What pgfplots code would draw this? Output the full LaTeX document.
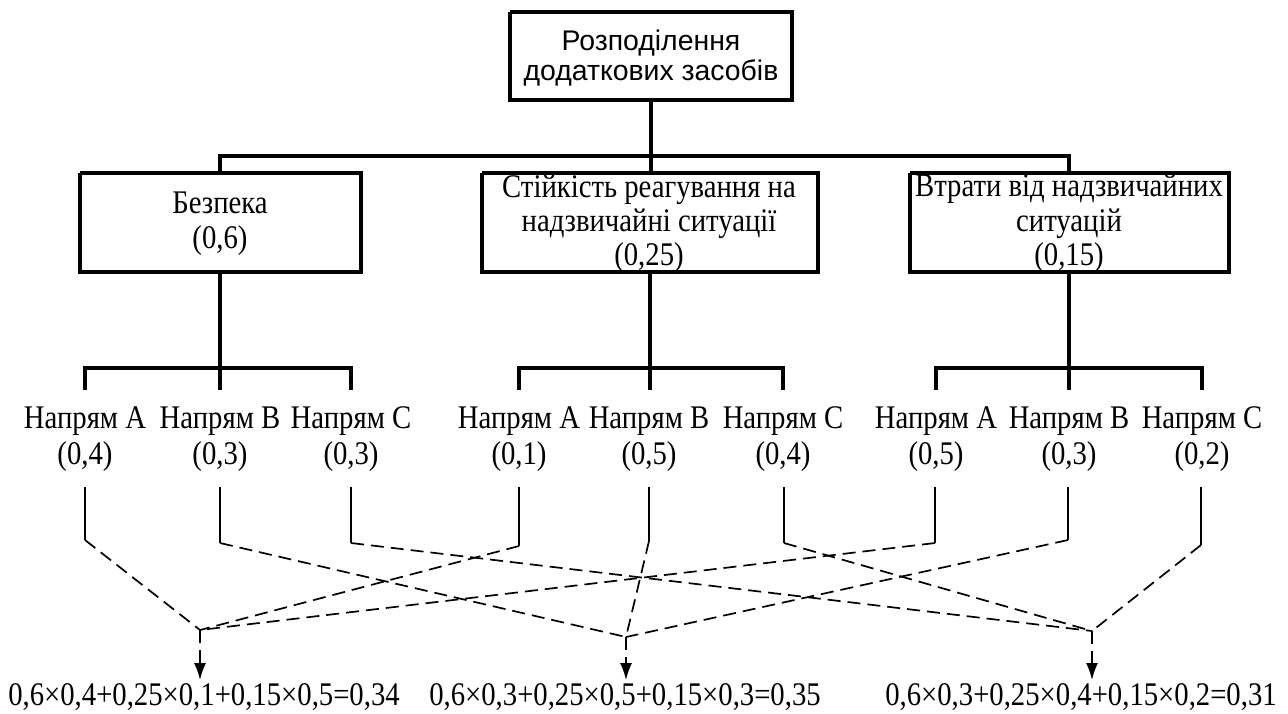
\documentclass[border=0pt]{standalone}
\usepackage{pgfplots}
\pgfplotsset{compat=1.18}
\usepackage{fontspec}
\setmainfont{Liberation Serif}[FakeStretch=0.87]
\newfontfamily\arialf{Liberation Sans}
\usetikzlibrary{arrows.meta}
\tikzset{
  tk/.style={black, line width=1.6pt},
  tn/.style={black, line width=0.75pt},
  dsh/.style={black, line width=0.85pt, dash pattern=on 6.5pt off 3.5pt},
  lab/.style={anchor=base, inner sep=0pt, font=\fontsize{16.5}{18}\selectfont},
  alab/.style={anchor=base, inner sep=0pt, font=\arialf\fontsize{14.2}{16}\selectfont},
}
\begin{document}
\begin{tikzpicture}
\begin{axis}[scale only axis, width=644pt, height=356.5pt,
  xmin=0, xmax=1288, ymin=0, ymax=713, y dir=reverse,
  axis lines=none, clip=false, every axis plot/.append style={no marks},
]
\path (axis cs:0,0) rectangle (axis cs:1288,713);
% top box
\addplot[tk] coordinates {(510,12) (792,12) (792,100) (510,100) (510,12)};
\node[alab] at (axis cs:651,50) {Розподілення};
\node[alab] at (axis cs:651,80) {додаткових засобів};
\addplot[tk] coordinates {(651,100) (651,173)};
\addplot[tk] coordinates {(220,173) (220,156) (1069,156) (1069,173)};
% level-1 boxes
\addplot[tk] coordinates {(80,173) (361,173) (361,272) (80,272) (80,173)};
\addplot[tk] coordinates {(482,173) (818,173) (818,272) (482,272) (482,173)};
\addplot[tk] coordinates {(910,173) (1229,173) (1229,272) (910,272) (910,173)};
\node[lab] at (axis cs:220,213) {Безпека};
\node[lab] at (axis cs:220,248) {(0,6)};
\node[lab] at (axis cs:649,197) {Стійкість реагування на};
\node[lab] at (axis cs:649,231) {надзвичайні ситуації};
\node[lab] at (axis cs:649,265) {(0,25)};
\node[lab] at (axis cs:1069,196) {Втрати від надзвичайних};
\node[lab] at (axis cs:1069,231) {ситуацій};
\node[lab] at (axis cs:1069,265) {(0,15)};
% branches
\addplot[tk] coordinates {(220,272) (220,368)};
\addplot[tk] coordinates {(650,272) (650,368)};
\addplot[tk] coordinates {(1069,272) (1069,368)};
\addplot[tk] coordinates {(85,390) (85,368) (351,368) (351,390)};
\addplot[tk] coordinates {(220,368) (220,390)};
\addplot[tk] coordinates {(519,390) (519,368) (783,368) (783,390)};
\addplot[tk] coordinates {(650,368) (650,390)};
\addplot[tk] coordinates {(936,390) (936,368) (1202,368) (1202,390)};
\addplot[tk] coordinates {(1069,368) (1069,390)};
% labels
\node[lab] at (axis cs:85,428) {Напрям А};
\node[lab] at (axis cs:85,464) {(0,4)};
\node[lab] at (axis cs:220,428) {Напрям В};
\node[lab] at (axis cs:220,464) {(0,3)};
\node[lab] at (axis cs:351,428) {Напрям С};
\node[lab] at (axis cs:351,464) {(0,3)};
\node[lab] at (axis cs:519,428) {Напрям А};
\node[lab] at (axis cs:519,464) {(0,1)};
\node[lab] at (axis cs:649,428) {Напрям В};
\node[lab] at (axis cs:649,464) {(0,5)};
\node[lab] at (axis cs:783,428) {Напрям С};
\node[lab] at (axis cs:783,464) {(0,4)};
\node[lab] at (axis cs:936,428) {Напрям А};
\node[lab] at (axis cs:936,464) {(0,5)};
\node[lab] at (axis cs:1069,428) {Напрям В};
\node[lab] at (axis cs:1069,464) {(0,3)};
\node[lab] at (axis cs:1202,428) {Напрям С};
\node[lab] at (axis cs:1202,464) {(0,2)};
% lower solid stubs
\addplot[tn] coordinates {(85,487) (85,540)};
\addplot[tn] coordinates {(220,487) (220,543)};
\addplot[tn] coordinates {(351,487) (351,543)};
\addplot[tn] coordinates {(519,487) (519,546)};
\addplot[tn] coordinates {(649,487) (649,541)};
\addplot[tn] coordinates {(784,487) (784,543)};
\addplot[tn] coordinates {(935,487) (935,543)};
\addplot[tn] coordinates {(1068,487) (1068,540)};
\addplot[tn] coordinates {(1201,487) (1201,545)};
% dashed links to result 1 (200,630)
\addplot[dsh] coordinates {(85,540) (200,630)};
\addplot[dsh] coordinates {(519,546) (200,630)};
\addplot[dsh] coordinates {(935,543) (200,630)};
% result 2 (626,637)
\addplot[dsh] coordinates {(220,543) (626,637)};
\addplot[dsh] coordinates {(649,541) (626,637)};
\addplot[dsh] coordinates {(1068,540) (626,637)};
% result 3 (1092,631)
\addplot[dsh] coordinates {(351,543) (1092,631)};
\addplot[dsh] coordinates {(784,543) (1092,631)};
\addplot[dsh] coordinates {(1201,545) (1092,631)};
% arrows
\addplot[dsh, -{Latex[length=8.5pt, width=6pt]}] coordinates {(200,630) (200,680)};
\addplot[dsh, -{Latex[length=8.5pt, width=6pt]}] coordinates {(626,637) (626,680)};
\addplot[dsh, -{Latex[length=8.5pt, width=6pt]}] coordinates {(1092,631) (1092,680)};
% formulas
\node[lab] at (axis cs:204,705) {0,6×0,4+0,25×0,1+0,15×0,5=0,34};
\node[lab] at (axis cs:625,705) {0,6×0,3+0,25×0,5+0,15×0,3=0,35};
\node[lab] at (axis cs:1081,705) {0,6×0,3+0,25×0,4+0,15×0,2=0,31};
\end{axis}
\end{tikzpicture}
\end{document}
